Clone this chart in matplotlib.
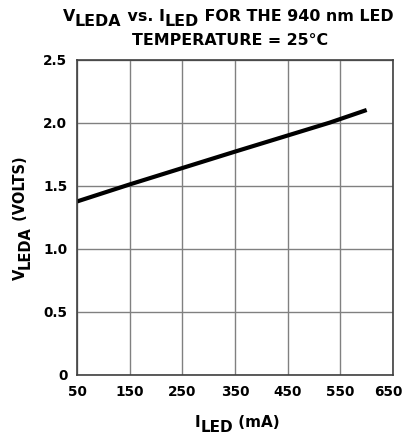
import matplotlib
matplotlib.use("Agg")
import matplotlib.pyplot as plt
import matplotlib.transforms as mtransforms
from matplotlib.font_manager import FontProperties

plt.rcParams['font.family'] = ['DejaVu Sans']
plt.rcParams['font.weight'] = 'bold'

# Data
i_led = [50, 150, 350, 530, 600]
v_leda = [1.375, 1.51, 1.77, 2.00, 2.10]
x_ticks = [50, 150, 250, 350, 450, 550, 650]
y_ticks = [0, 0.5, 1.0, 1.5, 2.0, 2.5]
y_tick_labels = ['0', '0.5', '1.0', '1.5', '2.0', '2.5']

W, H = 405, 437
fig = plt.figure(figsize=(W / 100, H / 100), dpi=100)
ax = fig.add_axes([77 / W, 1 - 375 / H, 316 / W, 315.5 / H])

ax.plot(i_led, v_leda, color='black', linewidth=3, solid_capstyle='butt')
ax.set_xlim(50, 650)
ax.set_ylim(0, 2.5)
ax.set_xticks(x_ticks)
ax.set_xticklabels([str(t) for t in x_ticks], fontsize=9.8, fontweight='bold')
ax.set_yticks(y_ticks)
ax.set_yticklabels(y_tick_labels, fontsize=9.8, fontweight='bold')
ax.tick_params(length=0, pad=7)
ax.grid(True, color='#808080', linewidth=1)
ax.set_axisbelow(True)
for s in ax.spines.values():
    s.set_color('#404040')
    s.set_linewidth(1.2)

# keep the last x tick label inside the figure
last = ax.get_xticklabels()[-1]
last.set_transform(last.get_transform() +
                   mtransforms.ScaledTranslation(-5 / 100, 0, fig.dpi_scale_trans))

renderer = fig.canvas.get_renderer()


def piece_width(s, prop):
    w1, _, _ = renderer.get_text_width_height_descent('I' + s + 'I', prop, ismath=False)
    w0, _, _ = renderer.get_text_width_height_descent('II', prop, ismath=False)
    return w1 - w0


def rich(pieces, x, y, size, rotation=0, align='left'):
    """pieces: list of (text, drop_px). x, y in pixels (baseline)."""
    prop = FontProperties(family='DejaVu Sans', weight='bold', size=size)
    widths = [piece_width(t, prop) for t, _ in pieces]
    total = sum(widths)
    if rotation == 0:
        cx = x - total / 2 if align == 'center' else x
        for (t, drop), w in zip(pieces, widths):
            fig.text(cx / W, 1 - (y + drop) / H, t, fontproperties=prop,
                     ha='left', va='baseline')
            cx += w
    else:
        cy = y - total / 2 if align == 'center' else y  # y measured up from bottom here
        for (t, drop), w in zip(pieces, widths):
            fig.text((x + drop) / W, cy / H, t, fontproperties=prop,
                     ha='left', va='baseline', rotation=90, rotation_mode='anchor')
            cy += w


# Title
rich([('V', 0), ('LEDA', 5), (' vs. ', 0), ('I', 0), ('LED', 5),
      (' FOR THE 940 nm LED', 0)], 228, 21, 11.4, align='center')
rich([('TEMPERATURE = 25°C', 0)], 230, 45, 11.4, align='center')

# X label
rich([('I', 0), ('LED', 5), (' (mA)', 0)], 237, 427, 11, align='center')

# Y label (rotated); y given in pixels from bottom
rich([('V', 0), ('LEDA', 5), (' (VOLTS)', 0)], 25, H - 218, 10.5,
     rotation=90, align='center')

fig.savefig('out.png', dpi=100)
